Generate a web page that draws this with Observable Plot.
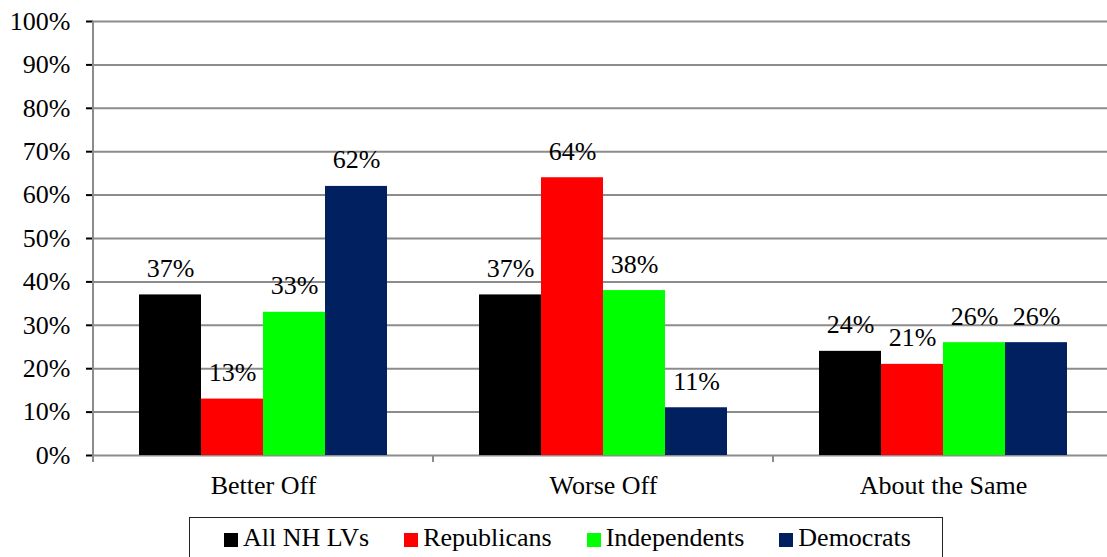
<!DOCTYPE html>
<html>
<head>
<meta charset="utf-8">
<script src="https://cdn.jsdelivr.net/npm/d3@7"></script>
<script src="https://cdn.jsdelivr.net/npm/@observablehq/plot@0.6"></script>
<style>
  html, body { margin: 0; padding: 0; background: #fff; }
  #wrap { position: relative; width: 1107px; height: 557px; overflow: hidden; font-family: "Liberation Serif", "Times New Roman", serif; }
  #chart svg { max-width: none !important; }
  #legend { position: absolute; left: 189px; top: 517px; width: 754px; height: 50px; border: 1.5px solid #222; box-sizing: border-box; font-size: 26px; color: #000; }
  .item { position: absolute; top: 0; height: 40px; }
  .sw { position: absolute; left: 0; top: 15px; width: 14px; height: 14px; }
  .lb { position: absolute; left: 19px; top: 5px; white-space: nowrap; line-height: 30px; }
  svg [aria-label="y-axis tick"] { stroke: #8c8c8c; stroke-width: 2; }
</style>
</head>
<body>
<div id="wrap"><div id="chart"></div><div id="legend"></div></div>
<script>
const groups = ["Better Off", "Worse Off", "About the Same"];
const series = ["All NH LVs", "Republicans", "Independents", "Democrats"];
const colors = ["#000000", "#ff0000", "#00ff00", "#002060"];
const betterOff = [37, 13, 33, 62];
const worseOff = [37, 64, 38, 11];
const aboutSame = [24, 21, 26, 26];
const yTicks = [0, 10, 20, 30, 40, 50, 60, 70, 80, 90, 100];

const valuesByGroup = [betterOff, worseOff, aboutSame];
const data = [];
groups.forEach((g, gi) => series.forEach((s, si) => data.push({group: g, series: s, value: valuesByGroup[gi][si]})));

const plot = Plot.plot({
  width: 1113,
  height: 505,
  marginLeft: 93,
  marginRight: 0,
  marginTop: 21,
  marginBottom: 50,
  style: {fontFamily: "'Liberation Serif', 'Times New Roman', serif", fontSize: "26px", background: "white", color: "black", overflow: "visible", maxWidth: "none"},
  fx: {domain: groups, padding: 0, label: null, axis: "bottom", tickSize: 0, tickPadding: 20},
  x: {domain: series, paddingInner: 0, paddingOuter: 0.74, axis: null},
  y: {domain: [0, 100], ticks: yTicks, tickFormat: d => d + "%", tickSize: 7, tickPadding: 16, label: null},
  color: {domain: series, range: colors},
  marks: [
    Plot.gridY(yTicks, {stroke: "#8c8c8c", strokeWidth: 2, strokeOpacity: 1}),
    Plot.barY(data, {fx: "group", x: "series", y: "value", fill: "series"}),
    Plot.text(data, {fx: "group", x: "series", y: "value", text: d => d.value + "%", dy: -18, lineAnchor: "bottom", fontSize: 26, fill: "black"})
  ]
});
document.getElementById("chart").appendChild(plot);

// axis line and category boundary ticks drawn from the plot's scales
const fxs = plot.scale("fx");
const ys = plot.scale("y");
const svg = d3.select(plot);
const y0 = ys.apply(0), yTop = ys.apply(100);
const left = fxs.apply(groups[0]);
svg.append("line").attr("x1", left).attr("x2", left).attr("y1", yTop).attr("y2", y0 + 7)
  .attr("stroke", "#8c8c8c").attr("stroke-width", 2);
const bounds = groups.map(g => fxs.apply(g)).concat([fxs.apply(groups[groups.length - 1]) + fxs.bandwidth]);
bounds.slice(1).forEach(b => {
  svg.append("line").attr("x1", b).attr("x2", b).attr("y1", y0).attr("y2", y0 + 7)
    .attr("stroke", "#8c8c8c").attr("stroke-width", 2);
});

// legend: items laid out by measured text widths
const legend = document.getElementById("legend");
let xpos = 34;
series.forEach((s, i) => {
  const it = document.createElement("div");
  it.className = "item";
  it.style.left = xpos + "px";
  it.innerHTML = `<span class="sw" style="background:${colors[i]}"></span><span class="lb">${s}</span>`;
  legend.appendChild(it);
  const w = it.querySelector(".lb").getBoundingClientRect().width;
  xpos += 19 + w + 35;
});
</script>
</body>
</html>
